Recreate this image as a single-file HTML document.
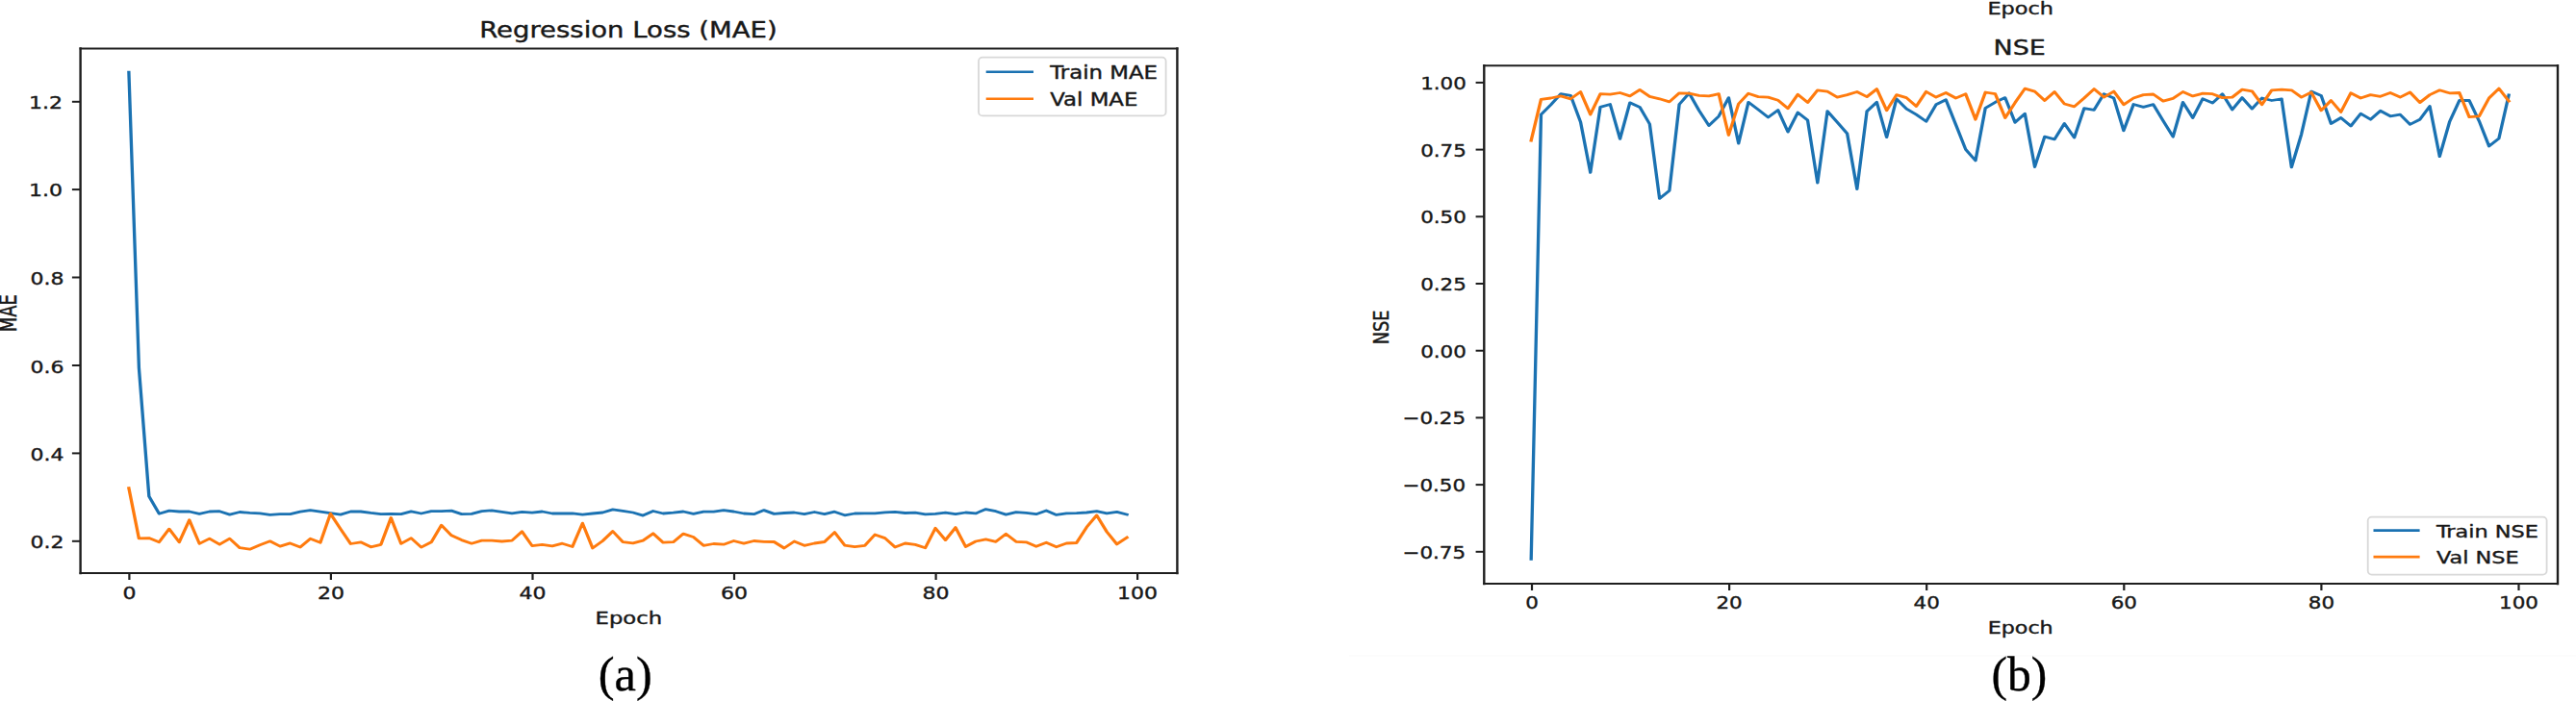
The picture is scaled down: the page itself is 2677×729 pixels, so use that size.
<!DOCTYPE html>
<html lang="en"><head><meta charset="utf-8"><title>Training curves</title>
<style>
html,body{margin:0;padding:0;background:#fff;}
body{width:2677px;height:729px;overflow:hidden;position:relative;}
svg{position:absolute;left:0;top:0;display:block;}
text{font-family:"DejaVu Sans","Liberation Sans",sans-serif;fill:#181818;stroke:#181818;stroke-width:0.4px;stroke-linejoin:round;}
text.cap{font-family:"Liberation Serif","Times New Roman",serif;fill:#000;stroke:#000;stroke-width:0.35px;}
</style></head><body>
<svg width="2677" height="729" viewBox="0 0 2677 729">
<rect width="2677" height="729" fill="#ffffff"/>
<g transform="scale(1.19,1)" fill="none" stroke-width="2.8" stroke-linejoin="round" stroke-linecap="square">
<polyline points="112.52,75.2 121.33,382.3 130.13,516.2 138.93,534.2 147.74,531.1 156.54,532.0 165.35,532.0 174.15,534.4 182.95,532.0 191.76,531.7 200.56,535.1 209.37,532.5 218.17,533.4 226.98,533.9 235.78,535.4 244.58,534.7 253.39,534.6 262.19,532.2 271.00,530.6 279.80,532.2 288.61,533.7 297.41,535.1 306.21,532.0 315.02,532.0 323.82,533.4 332.63,534.6 341.43,534.4 350.23,534.7 359.04,531.8 367.84,534.0 376.65,531.7 385.45,531.7 394.26,531.1 403.06,534.6 411.86,534.4 420.67,531.7 429.47,530.8 438.28,532.3 447.08,533.9 455.88,532.3 464.69,533.2 473.49,532.0 482.30,534.0 491.10,534.0 499.91,533.9 508.71,535.1 517.51,534.0 526.32,533.0 535.12,529.9 543.93,531.3 552.73,533.0 561.54,536.1 570.34,531.5 579.14,534.0 587.95,533.2 596.75,532.0 605.56,534.4 614.36,532.2 623.16,532.2 631.97,530.6 640.77,532.0 649.58,534.0 658.38,534.7 667.19,530.6 675.99,534.4 684.79,533.5 693.60,533.0 702.40,534.7 711.21,532.5 720.01,534.7 728.82,532.2 737.62,535.8 746.42,534.0 755.23,533.9 764.03,533.9 772.84,532.9 781.64,532.3 790.44,533.5 799.25,533.2 808.05,534.9 816.86,534.4 825.66,533.2 834.47,534.7 843.27,533.0 852.07,533.9 860.88,529.6 869.68,531.7 878.49,535.1 887.29,532.7 896.09,533.4 904.90,534.7 913.70,531.0 922.51,535.4 931.31,533.9 940.12,533.7 948.92,533.0 957.72,531.7 966.53,533.9 975.33,532.3 984.14,535.1" stroke="#1b72b2"/>
<polyline points="112.52,507.7 121.33,559.9 130.13,559.6 138.93,563.8 147.74,550.1 156.54,563.7 165.35,540.7 174.15,565.4 182.95,560.1 191.76,566.2 200.56,560.1 209.37,569.7 218.17,571.2 226.98,566.7 235.78,562.8 244.58,568.1 253.39,564.9 262.19,569.0 271.00,560.2 279.80,564.2 288.61,534.2 297.41,550.1 306.21,565.5 315.02,563.8 323.82,568.8 332.63,566.4 341.43,538.5 350.23,565.4 359.04,559.6 367.84,569.1 376.65,563.8 385.45,546.2 394.26,556.8 403.06,561.6 411.86,565.2 420.67,562.1 429.47,562.1 438.28,563.0 447.08,562.1 455.88,552.7 464.69,567.6 473.49,566.4 482.30,567.9 491.10,565.2 499.91,568.5 508.71,544.1 517.51,570.0 526.32,562.5 535.12,552.5 543.93,563.7 552.73,564.9 561.54,562.1 570.34,554.8 579.14,564.2 587.95,563.7 596.75,555.1 605.56,558.5 614.36,567.3 623.16,565.5 631.97,566.2 640.77,562.5 649.58,565.2 658.38,562.5 667.19,563.3 675.99,563.5 684.79,570.0 693.60,563.0 702.40,567.3 711.21,565.0 720.01,563.5 728.82,553.6 737.62,567.1 746.42,568.6 755.23,567.4 764.03,556.0 772.84,559.6 781.64,569.0 790.44,565.0 799.25,566.4 808.05,569.8 816.86,549.3 825.66,561.6 834.47,548.6 843.27,568.5 852.07,563.0 860.88,560.8 869.68,563.3 878.49,555.3 887.29,563.3 896.09,563.8 904.90,568.3 913.70,564.2 922.51,568.8 931.31,565.0 940.12,564.5 948.92,548.3 957.72,535.9 966.53,553.0 975.33,565.9 984.14,559.0" stroke="#ff7b0e"/>
</g>
<g stroke="#1e1e1e" stroke-linecap="square">
<line x1="83.6" y1="50.5" x2="1223.4" y2="50.5" stroke-width="2"/>
<line x1="83.6" y1="596.0" x2="1223.4" y2="596.0" stroke-width="2"/>
<line x1="83.6" y1="50.5" x2="83.6" y2="596.0" stroke-width="2.4"/>
<line x1="1223.4" y1="50.5" x2="1223.4" y2="596.0" stroke-width="2.4"/>
</g>
<line x1="134.4" y1="596.0" x2="134.4" y2="603.0" stroke="#1e1e1e" stroke-width="2.2"/>
<text transform="translate(134.40,623.30) scale(1.2022,1)" font-size="18.30" text-anchor="middle">0</text>
<line x1="343.9" y1="596.0" x2="343.9" y2="603.0" stroke="#1e1e1e" stroke-width="2.2"/>
<text transform="translate(343.94,623.30) scale(1.2022,1)" font-size="18.30" text-anchor="middle">20</text>
<line x1="553.5" y1="596.0" x2="553.5" y2="603.0" stroke="#1e1e1e" stroke-width="2.2"/>
<text transform="translate(553.48,623.30) scale(1.2022,1)" font-size="18.30" text-anchor="middle">40</text>
<line x1="763.0" y1="596.0" x2="763.0" y2="603.0" stroke="#1e1e1e" stroke-width="2.2"/>
<text transform="translate(763.02,623.30) scale(1.2022,1)" font-size="18.30" text-anchor="middle">60</text>
<line x1="972.6" y1="596.0" x2="972.6" y2="603.0" stroke="#1e1e1e" stroke-width="2.2"/>
<text transform="translate(972.56,623.30) scale(1.2022,1)" font-size="18.30" text-anchor="middle">80</text>
<line x1="1182.1" y1="596.0" x2="1182.1" y2="603.0" stroke="#1e1e1e" stroke-width="2.2"/>
<text transform="translate(1182.10,623.30) scale(1.2022,1)" font-size="18.30" text-anchor="middle">100</text>
<line x1="74.9" y1="562.8" x2="83.6" y2="562.8" stroke="#1e1e1e" stroke-width="2"/>
<text transform="translate(66.40,570.35) scale(1.2022,1)" font-size="18.30" text-anchor="end">0.2</text>
<line x1="74.9" y1="471.4" x2="83.6" y2="471.4" stroke="#1e1e1e" stroke-width="2"/>
<text transform="translate(66.40,478.95) scale(1.2022,1)" font-size="18.30" text-anchor="end">0.4</text>
<line x1="74.9" y1="380.0" x2="83.6" y2="380.0" stroke="#1e1e1e" stroke-width="2"/>
<text transform="translate(66.40,387.55) scale(1.2022,1)" font-size="18.30" text-anchor="end">0.6</text>
<line x1="74.9" y1="288.5" x2="83.6" y2="288.5" stroke="#1e1e1e" stroke-width="2"/>
<text transform="translate(66.40,296.15) scale(1.2022,1)" font-size="18.30" text-anchor="end">0.8</text>
<line x1="74.9" y1="197.1" x2="83.6" y2="197.1" stroke="#1e1e1e" stroke-width="2"/>
<text transform="translate(64.90,204.05) scale(1.2022,1)" font-size="18.30" text-anchor="end">1.0</text>
<line x1="74.9" y1="105.8" x2="83.6" y2="105.8" stroke="#1e1e1e" stroke-width="2"/>
<text transform="translate(64.90,112.65) scale(1.2022,1)" font-size="18.30" text-anchor="end">1.2</text>
<text transform="translate(652.90,39.40) scale(1.2190,1)" font-size="22.56" text-anchor="middle">Regression Loss (MAE)</text>
<text transform="translate(653.30,649.30) scale(1.2753,1)" font-size="17.80" text-anchor="middle">Epoch</text>
<text transform="translate(16.60,325.80) scale(1.3520,1) rotate(-90)" font-size="17.90" text-anchor="middle">MAE</text>
<rect x="1017.0" y="59.6" width="194.6" height="60.8" rx="4" ry="4" fill="#ffffff" fill-opacity="0.8" stroke="#d8d8d8" stroke-width="1.8"/>
<line x1="1024.7" y1="74.7" x2="1074.0" y2="74.7" stroke="#1b72b2" stroke-width="2.6"/>
<line x1="1024.7" y1="102.7" x2="1074.0" y2="102.7" stroke="#ff7b0e" stroke-width="2.6"/>
<text transform="translate(1091.20,81.80) scale(1.2154,1)" font-size="18.80" text-anchor="start">Train MAE</text>
<text transform="translate(1091.20,109.70) scale(1.2154,1)" font-size="18.80" text-anchor="start">Val MAE</text>
<g transform="scale(1.19,1)" fill="none" stroke-width="2.8" stroke-linejoin="round" stroke-linecap="square">
<polyline points="1337.14,581.4 1345.77,119.1 1354.39,108.8 1363.01,97.7 1371.64,99.4 1380.26,126.8 1388.88,179.4 1397.51,111.4 1406.13,108.5 1414.75,144.4 1423.38,106.8 1432.00,111.4 1440.63,129.0 1449.25,206.4 1457.87,198.2 1466.50,108.5 1475.12,96.8 1483.74,114.8 1492.37,130.6 1500.99,120.8 1509.61,101.6 1518.24,149.1 1526.86,106.3 1535.48,114.0 1544.11,122.0 1552.73,114.5 1561.35,137.1 1569.98,117.0 1578.60,125.1 1587.23,190.1 1595.85,115.7 1604.47,127.1 1613.10,138.8 1621.72,196.5 1630.34,115.7 1638.97,106.3 1647.59,142.7 1656.21,102.8 1664.84,113.1 1673.46,119.1 1682.08,126.3 1690.71,108.8 1699.33,103.7 1707.95,129.5 1716.58,155.4 1725.20,167.0 1733.83,112.3 1742.45,106.3 1751.07,101.6 1759.70,127.3 1768.32,118.2 1776.94,173.5 1785.57,142.2 1794.19,144.8 1802.81,128.5 1811.44,143.1 1820.06,112.6 1828.68,114.3 1837.31,97.7 1845.93,102.0 1854.55,135.9 1863.18,108.5 1871.80,111.4 1880.43,108.7 1889.05,125.6 1897.67,142.2 1906.30,106.3 1914.92,122.5 1923.54,102.8 1932.17,107.1 1940.79,97.7 1949.41,114.0 1958.04,101.6 1966.66,113.1 1975.28,102.0 1983.91,104.5 1992.53,102.8 2001.15,173.9 2009.78,139.6 2018.40,95.1 2027.03,99.4 2035.65,128.5 2044.27,122.5 2052.90,131.1 2061.52,118.2 2070.14,124.2 2078.77,115.3 2087.39,120.8 2096.01,119.1 2104.64,129.4 2113.26,124.2 2121.88,110.5 2130.51,162.7 2139.13,126.8 2147.75,104.5 2156.38,104.5 2165.00,125.9 2173.63,152.0 2182.25,143.9 2190.87,98.9" stroke="#1b72b2"/>
<polyline points="1337.14,146.1 1345.77,103.4 1354.39,102.0 1363.01,99.9 1371.64,102.8 1380.26,95.5 1388.88,119.1 1397.51,97.7 1406.13,98.2 1414.75,96.5 1423.38,99.9 1432.00,93.4 1440.63,100.3 1449.25,102.8 1457.87,105.9 1466.50,96.8 1475.12,97.2 1483.74,99.4 1492.37,99.9 1500.99,97.7 1509.61,140.5 1518.24,108.0 1526.86,97.2 1535.48,100.6 1544.11,101.1 1552.73,104.2 1561.35,112.8 1569.98,98.2 1578.60,106.6 1587.23,93.8 1595.85,95.1 1604.47,101.1 1613.10,98.6 1621.72,95.5 1630.34,100.6 1638.97,92.6 1647.59,114.8 1656.21,98.6 1664.84,101.6 1673.46,110.5 1682.08,95.3 1690.71,101.1 1699.33,96.5 1707.95,102.0 1716.58,97.7 1725.20,124.2 1733.83,96.0 1742.45,97.7 1751.07,122.5 1759.70,106.8 1768.32,92.1 1776.94,95.1 1785.57,104.5 1794.19,95.5 1802.81,108.0 1811.44,110.9 1820.06,102.0 1828.68,92.6 1837.31,101.1 1845.93,95.1 1854.55,108.8 1863.18,102.0 1871.80,98.6 1880.43,98.0 1889.05,105.1 1897.67,102.3 1906.30,95.5 1914.92,99.9 1923.54,97.2 1932.17,97.7 1940.79,101.6 1949.41,101.1 1958.04,93.1 1966.66,94.8 1975.28,108.8 1983.91,93.8 1992.53,93.1 2001.15,93.8 2009.78,101.1 2018.40,96.0 2027.03,114.8 2035.65,104.5 2044.27,116.5 2052.90,96.8 2061.52,102.0 2070.14,98.6 2078.77,100.3 2087.39,96.5 2096.01,101.1 2104.64,96.0 2113.26,106.6 2121.88,98.6 2130.51,93.8 2139.13,96.8 2147.75,96.5 2156.38,121.7 2165.00,120.8 2173.63,102.0 2182.25,92.1 2190.87,105.1" stroke="#ff7b0e"/>
</g>
<g stroke="#1e1e1e" stroke-linecap="square">
<line x1="1542.3" y1="68.2" x2="2658.0" y2="68.2" stroke-width="2"/>
<line x1="1542.3" y1="607.0" x2="2658.0" y2="607.0" stroke-width="2"/>
<line x1="1542.3" y1="68.2" x2="1542.3" y2="607.0" stroke-width="2.4"/>
<line x1="2658.0" y1="68.2" x2="2658.0" y2="607.0" stroke-width="2.4"/>
</g>
<line x1="1592.0" y1="607.0" x2="1592.0" y2="614.0" stroke="#1e1e1e" stroke-width="2.2"/>
<text transform="translate(1592.00,633.40) scale(1.1630,1)" font-size="18.40" text-anchor="middle">0</text>
<line x1="1797.1" y1="607.0" x2="1797.1" y2="614.0" stroke="#1e1e1e" stroke-width="2.2"/>
<text transform="translate(1797.10,633.40) scale(1.1630,1)" font-size="18.40" text-anchor="middle">20</text>
<line x1="2002.2" y1="607.0" x2="2002.2" y2="614.0" stroke="#1e1e1e" stroke-width="2.2"/>
<text transform="translate(2002.20,633.40) scale(1.1630,1)" font-size="18.40" text-anchor="middle">40</text>
<line x1="2207.3" y1="607.0" x2="2207.3" y2="614.0" stroke="#1e1e1e" stroke-width="2.2"/>
<text transform="translate(2207.30,633.40) scale(1.1630,1)" font-size="18.40" text-anchor="middle">60</text>
<line x1="2412.4" y1="607.0" x2="2412.4" y2="614.0" stroke="#1e1e1e" stroke-width="2.2"/>
<text transform="translate(2412.40,633.40) scale(1.1630,1)" font-size="18.40" text-anchor="middle">80</text>
<line x1="2617.5" y1="607.0" x2="2617.5" y2="614.0" stroke="#1e1e1e" stroke-width="2.2"/>
<text transform="translate(2617.50,633.40) scale(1.1630,1)" font-size="18.40" text-anchor="middle">100</text>
<line x1="1533.6" y1="85.9" x2="1542.3" y2="85.9" stroke="#1e1e1e" stroke-width="2"/>
<text transform="translate(1523.80,92.80) scale(1.1630,1)" font-size="18.40" text-anchor="end">1.00</text>
<line x1="1533.6" y1="155.6" x2="1542.3" y2="155.6" stroke="#1e1e1e" stroke-width="2"/>
<text transform="translate(1523.80,162.50) scale(1.1630,1)" font-size="18.40" text-anchor="end">0.75</text>
<line x1="1533.6" y1="225.3" x2="1542.3" y2="225.3" stroke="#1e1e1e" stroke-width="2"/>
<text transform="translate(1523.80,232.20) scale(1.1630,1)" font-size="18.40" text-anchor="end">0.50</text>
<line x1="1533.6" y1="295.0" x2="1542.3" y2="295.0" stroke="#1e1e1e" stroke-width="2"/>
<text transform="translate(1523.80,301.90) scale(1.1630,1)" font-size="18.40" text-anchor="end">0.25</text>
<line x1="1533.6" y1="364.7" x2="1542.3" y2="364.7" stroke="#1e1e1e" stroke-width="2"/>
<text transform="translate(1523.80,371.60) scale(1.1630,1)" font-size="18.40" text-anchor="end">0.00</text>
<line x1="1533.6" y1="434.4" x2="1542.3" y2="434.4" stroke="#1e1e1e" stroke-width="2"/>
<text transform="translate(1523.00,441.30) scale(1.1630,1)" font-size="18.40" text-anchor="end">−0.25</text>
<line x1="1533.6" y1="504.1" x2="1542.3" y2="504.1" stroke="#1e1e1e" stroke-width="2"/>
<text transform="translate(1523.00,511.00) scale(1.1630,1)" font-size="18.40" text-anchor="end">−0.50</text>
<line x1="1533.6" y1="573.8" x2="1542.3" y2="573.8" stroke="#1e1e1e" stroke-width="2"/>
<text transform="translate(1523.00,580.70) scale(1.1630,1)" font-size="18.40" text-anchor="end">−0.75</text>
<text transform="translate(2098.70,57.00) scale(1.2227,1)" font-size="22.00" text-anchor="middle">NSE</text>
<text transform="translate(2099.70,659.30) scale(1.2472,1)" font-size="17.80" text-anchor="middle">Epoch</text>
<text transform="translate(2099.70,14.70) scale(1.2584,1)" font-size="17.80" text-anchor="middle">Epoch</text>
<text transform="translate(1443.30,340.40) scale(1.2260,1) rotate(-90)" font-size="17.70" text-anchor="middle">NSE</text>
<rect x="2460.7" y="537.6" width="185.9" height="60.0" rx="4" ry="4" fill="#ffffff" fill-opacity="0.8" stroke="#d8d8d8" stroke-width="1.8"/>
<line x1="2466.5" y1="551.6" x2="2514.6" y2="551.6" stroke="#1b72b2" stroke-width="2.6"/>
<line x1="2466.5" y1="579.1" x2="2514.6" y2="579.1" stroke="#ff7b0e" stroke-width="2.6"/>
<text transform="translate(2531.90,558.70) scale(1.2108,1)" font-size="18.50" text-anchor="start">Train NSE</text>
<text transform="translate(2531.90,586.20) scale(1.2108,1)" font-size="18.50" text-anchor="start">Val NSE</text>
<rect x="1402" y="681.2" width="1275" height="2" fill="#fcfcfc"/>
<text class="cap" transform="translate(649.7,718.2) scale(1.0,1)" font-size="50.5" text-anchor="middle">(a)</text>
<text class="cap" transform="translate(2098.3,718.3) scale(0.98,1)" font-size="50.5" text-anchor="middle">(b)</text>
</svg></body></html>
